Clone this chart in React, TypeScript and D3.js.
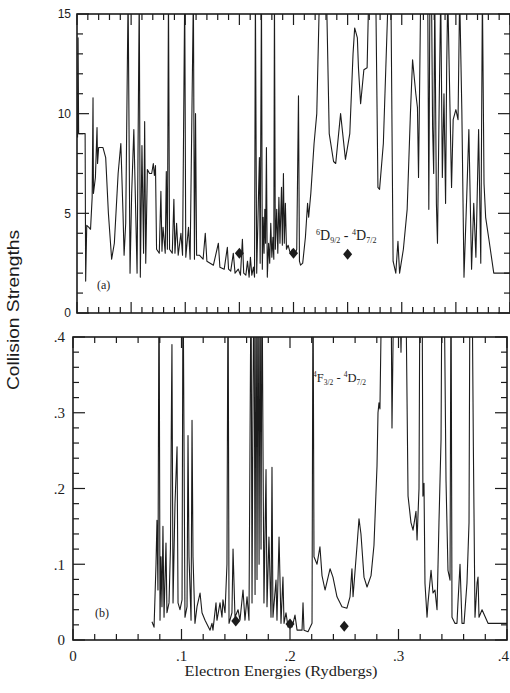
import React from "react";
import * as d3 from "d3";

// Panel (a): 6D9/2 - 4D7/2 collision strengths vs electron energy (Ry)
const energyA = [
  0.0005, 0.001, 0.0015, 0.0075, 0.008, 0.009, 0.011, 0.0125, 0.014, 0.0148,
  0.0152, 0.017, 0.0185, 0.019, 0.02, 0.024, 0.0265, 0.029, 0.032, 0.0345,
  0.038, 0.0405, 0.0425, 0.0435, 0.045, 0.0472, 0.049, 0.0505, 0.0525, 0.0555,
  0.0575, 0.0585, 0.06, 0.0615, 0.0625, 0.0635, 0.065, 0.067, 0.069, 0.0705,
  0.0715, 0.0725, 0.0735, 0.076, 0.0775, 0.0785, 0.0795, 0.0815, 0.0825, 0.0835,
  0.0845, 0.0855, 0.088, 0.0895, 0.0905, 0.092, 0.0935, 0.096, 0.0975, 0.0995,
  0.1005, 0.103, 0.1045, 0.1075, 0.1085, 0.1095, 0.1105, 0.113, 0.1165, 0.1185,
  0.12, 0.123, 0.126, 0.1306, 0.132, 0.136, 0.1389, 0.14, 0.142, 0.1444,
  0.146, 0.149, 0.151, 0.1528, 0.154, 0.156, 0.1575, 0.159, 0.1602, 0.1615,
  0.163, 0.164, 0.1648, 0.166, 0.1675, 0.1685, 0.1692, 0.1704, 0.1712, 0.172,
  0.1728, 0.1735, 0.1742, 0.175, 0.1758, 0.177, 0.178, 0.179, 0.18, 0.181,
  0.1818, 0.1824, 0.1832, 0.1845, 0.1855, 0.1865, 0.1875, 0.1889, 0.1897, 0.1907,
  0.1915, 0.1925, 0.1935, 0.195, 0.197, 0.199, 0.201, 0.203, 0.2046, 0.2055,
  0.2065, 0.2085, 0.211, 0.213, 0.214, 0.216, 0.219, 0.2215, 0.224, 0.2305,
  0.233, 0.237, 0.239, 0.2435, 0.248, 0.252, 0.255, 0.2565, 0.259, 0.26,
  0.262, 0.265, 0.268, 0.2695, 0.276, 0.278, 0.2795, 0.283, 0.2875, 0.29,
  0.292, 0.2945, 0.2965, 0.298, 0.3015, 0.305, 0.308, 0.31, 0.313, 0.3145,
  0.3155, 0.3162, 0.3175, 0.324, 0.325, 0.326, 0.3275, 0.3285, 0.3295, 0.3305,
  0.332, 0.333, 0.3345, 0.336, 0.3375, 0.339, 0.3405, 0.3415, 0.3425, 0.346,
  0.3475, 0.35, 0.352, 0.3535, 0.3555, 0.3575, 0.36, 0.362, 0.3645, 0.3665,
  0.3685, 0.371, 0.373, 0.3745, 0.376, 0.3775, 0.3805, 0.385, 0.4,
];
const strengthA = [
  8.8, 13.8, 9.0, 9.0, 1.6, 4.4, 4.3, 4.2, 5.8, 10.8,
  6.0, 6.8, 9.3, 7.5, 8.3, 8.3, 7.8, 5.0, 2.7, 3.5,
  7.0, 8.5, 5.0, 2.9, 4.5, 16, 2.0, 6.0, 9.2, 2.0,
  16, 1.8, 8.4, 3.0, 9.6, 2.5, 7.2, 7.0, 7.0, 7.5,
  6.9, 7.4, 3.2, 3.0, 6.1, 3.1, 4.3, 3.0, 7.1, 3.2,
  16, 3.2, 3.0, 5.7, 3.0, 4.5, 2.9, 4.0, 2.9, 16,
  2.8, 4.3, 2.7, 16, 2.7, 10.0, 2.9, 2.9, 2.7, 4.0,
  2.6, 2.5, 2.4, 3.5, 2.3, 2.2, 3.3, 2.2, 2.1, 3.0,
  2.0, 2.2, 1.9, 3.7, 2.0, 1.9, 2.6, 1.8, 2.8, 1.9,
  2.3, 1.8, 16, 2.0, 5.5, 7.8, 2.5, 16, 2.2, 4.8,
  3.0, 5.2, 3.5, 8.3, 1.8, 3.5, 2.5, 4.5, 2.8, 3.8,
  2.7, 16, 3.2, 5.2, 3.0, 5.8, 3.5, 6.3, 3.4, 7.0,
  3.5, 5.5, 3.2, 3.4, 3.0, 3.2, 2.9, 3.2, 10.9, 2.6,
  2.4, 2.5, 3.8, 5.5, 4.8, 6.0, 8.5, 10.0, 16, 16,
  9.0, 7.6, 7.5, 10.0, 7.7, 9.0, 13.0, 14.3, 13.8, 12.3,
  10.5, 12.2, 12.3, 16, 16, 6.3, 6.2, 8.5, 16, 16,
  2.6, 2.0, 3.6, 2.0, 3.2, 5.2, 10.0, 12.7, 11.0, 10.3,
  6.8, 10.0, 16, 16, 5.2, 16, 16, 9.3, 7.0, 16,
  5.5, 3.5, 10.2, 16, 6.8, 11.0, 5.5, 12.3, 16, 6.3,
  9.7, 10.2, 9.7, 16, 10.2, 1.8, 5.8, 9.2, 2.2, 5.5,
  2.8, 9.2, 2.5, 16, 6.5, 4.8, 3.7, 2.0, 2.0,
];

// Panel (b): 4F3/2 - 4D7/2
const energyB = [
  0.0728, 0.0747, 0.0765, 0.0774, 0.0783, 0.0793, 0.0802, 0.0811, 0.082, 0.0829,
  0.0839, 0.0857, 0.0866, 0.0885, 0.0898, 0.0908, 0.0912, 0.0922, 0.094, 0.0959,
  0.0968, 0.0986, 0.1005, 0.1014, 0.1032, 0.1051, 0.106, 0.1069, 0.1088, 0.1097,
  0.1106, 0.1124, 0.1143, 0.1171, 0.1189, 0.1217, 0.1263, 0.1281, 0.129, 0.1318,
  0.1327, 0.1355, 0.1373, 0.1382, 0.1401, 0.1419, 0.1429, 0.1438, 0.1465, 0.1475,
  0.1493, 0.1521, 0.1539, 0.1567, 0.1585, 0.1604, 0.1622, 0.1641, 0.165, 0.1659,
  0.1668, 0.1678, 0.1687, 0.1696, 0.1705, 0.1715, 0.1724, 0.1733, 0.1742, 0.1751,
  0.176, 0.1779, 0.1788, 0.1806, 0.1825, 0.1834, 0.1843, 0.1871, 0.188, 0.1899,
  0.1917, 0.1935, 0.1945, 0.1963, 0.1982, 0.2, 0.2018, 0.2028, 0.2046, 0.2065,
  0.2111, 0.212, 0.2129, 0.2166, 0.2203, 0.2212, 0.2221, 0.2249, 0.2276, 0.2295,
  0.2323, 0.2369, 0.2396, 0.2433, 0.2479, 0.2525, 0.2553, 0.2571, 0.2581, 0.2618,
  0.2636, 0.2654, 0.2682, 0.271, 0.2747, 0.2774, 0.2802, 0.2811, 0.282, 0.2829,
  0.2848, 0.293, 0.294, 0.2959, 0.3014, 0.3023, 0.3032, 0.3069, 0.3088, 0.3115,
  0.3134, 0.3161, 0.3171, 0.3189, 0.3198, 0.3217, 0.3225, 0.3235, 0.3244, 0.3263,
  0.3272, 0.33, 0.3318, 0.3336, 0.3355, 0.3373, 0.3392, 0.3401, 0.3419, 0.3438,
  0.3456, 0.3475, 0.3484, 0.3493, 0.352, 0.3539, 0.3548, 0.3567, 0.3585, 0.3604,
  0.3631, 0.365, 0.3659, 0.3677, 0.369, 0.3705, 0.3724, 0.3733, 0.3742, 0.377,
  0.3825, 0.4,
];
const strengthB = [
  0.024, 0.017, 0.1, 0.158, 0.066, 0.5, 0.026, 0.11, 0.044, 0.15,
  0.03, 0.128, 0.036, 0.049, 0.12, 0.32, 0.39, 0.049, 0.18, 0.255,
  0.049, 0.04, 0.053, 0.5, 0.03, 0.044, 0.27, 0.11, 0.026, 0.29,
  0.11, 0.022, 0.044, 0.062, 0.036, 0.026, 0.013, 0.022, 0.013, 0.049,
  0.026, 0.049, 0.03, 0.053, 0.036, 0.1, 0.5, 0.022, 0.036, 0.12,
  0.03, 0.04, 0.026, 0.066, 0.026, 0.057, 0.026, 0.5, 0.049, 0.317,
  0.5, 0.06, 0.5, 0.08, 0.5, 0.1, 0.5, 0.12, 0.5, 0.255,
  0.049, 0.225, 0.044, 0.136, 0.03, 0.228, 0.03, 0.079, 0.026, 0.136,
  0.022, 0.083, 0.022, 0.036, 0.017, 0.026, 0.017, 0.022, 0.033, 0.013,
  0.013, 0.049, 0.013, 0.011, 0.022, 0.5, 0.11, 0.1, 0.123, 0.085,
  0.066, 0.094, 0.083, 0.057, 0.044, 0.042, 0.057, 0.094, 0.057, 0.125,
  0.16, 0.14, 0.083, 0.07, 0.085, 0.125, 0.23, 0.3, 0.313, 0.305,
  0.5, 0.5, 0.28, 0.5, 0.45, 0.38, 0.45, 0.45, 0.19, 0.155,
  0.145, 0.17, 0.132, 0.2, 0.5, 0.5, 0.19, 0.207, 0.075, 0.03,
  0.049, 0.092, 0.062, 0.066, 0.04, 0.155, 0.264, 0.5, 0.5, 0.21,
  0.092, 0.079, 0.5, 0.03, 0.022, 0.022, 0.049, 0.1, 0.022, 0.022,
  0.075, 0.155, 0.5, 0.5, 0.255, 0.03, 0.075, 0.083, 0.03, 0.04,
  0.022, 0.022,
];

// Diamond reference points
const markEnergy = [0.15, 0.2, 0.25];
const markStrengthA = [3.0, 3.0, 2.95];
const markStrengthB = [0.025, 0.021, 0.018];

const yTicksA = [0, 5, 10, 15];
const yTickLabelsA = ["0", "5", "10", "15"];
const yTicksB = [0, 0.1, 0.2, 0.3, 0.4];
const yTickLabelsB = ["0", ".1", ".2", ".3", ".4"];
const xTicks = [0, 0.1, 0.2, 0.3, 0.4];
const xTickLabels = ["0", ".1", ".2", ".3", ".4"];

const INK = "#1c1c1c";
const SERIF = "'Liberation Serif', 'Times New Roman', serif";
const SANS = "'Liberation Sans', Arial, Helvetica, sans-serif";

type PanelProps = {
  id: string;
  energy: number[];
  strength: number[];
  marks: number[];
  yMax: number;
  left: number;
  right: number;
  top: number;
  bottom: number;
  xMinorStep: number;
  xMajorStep: number;
  yMinorStep: number;
  yMajorStep: number;
};

function Panel(p: PanelProps) {
  const x = d3.scaleLinear().domain([0, 0.4]).range([p.left, p.right]);
  const y = d3.scaleLinear().domain([0, p.yMax]).range([p.bottom, p.top]);
  const pts: [number, number][] = p.energy.map((e, i) => [e, p.strength[i]]);
  const line = d3
    .line<[number, number]>()
    .x((d) => x(d[0]))
    .y((d) => y(d[1]));

  const nx = Math.round(0.4 / p.xMinorStep);
  const xTickVals = d3.range(0, nx + 1).map((i) => i * p.xMinorStep);
  const ny = Math.round(p.yMax / p.yMinorStep);
  const yTickVals = d3.range(0, ny + 1).map((i) => i * p.yMinorStep);
  const isMajor = (v: number, step: number) =>
    Math.abs(v / step - Math.round(v / step)) < 1e-6;

  const diamond = (cx: number, cy: number) => {
    const path = d3.path();
    path.moveTo(cx, cy - 5.5);
    path.lineTo(cx + 4.5, cy);
    path.lineTo(cx, cy + 5.5);
    path.lineTo(cx - 4.5, cy);
    path.closePath();
    return path.toString();
  };

  return (
    <g>
      <defs>
        <clipPath id={`clip-${p.id}`}>
          <rect x={p.left} y={p.top} width={p.right - p.left} height={p.bottom - p.top} />
        </clipPath>
      </defs>
      <path
        d={line(pts) || ""}
        fill="none"
        stroke={INK}
        strokeWidth={1.1}
        strokeLinejoin="round"
        clipPath={`url(#clip-${p.id})`}
      />
      {p.marks.map((m, i) => (
        <path key={i} d={diamond(x(markEnergy[i]), y(m))} fill={INK} />
      ))}
      {xTickVals.map((v, i) => {
        const len = isMajor(v, p.xMajorStep) ? 11 : 6;
        const xp = x(v);
        return (
          <g key={`xt${i}`} stroke={INK} strokeWidth={1.2}>
            <line x1={xp} x2={xp} y1={p.bottom} y2={p.bottom - len} />
            <line x1={xp} x2={xp} y1={p.top} y2={p.top + len} />
          </g>
        );
      })}
      {yTickVals.map((v, i) => {
        const len = isMajor(v, p.yMajorStep) ? 12 : 6;
        const yp = y(v);
        return (
          <g key={`yt${i}`} stroke={INK} strokeWidth={1.2}>
            <line x1={p.left} x2={p.left + len} y1={yp} y2={yp} />
            <line x1={p.right} x2={p.right - len} y1={yp} y2={yp} />
          </g>
        );
      })}
      <rect
        x={p.left}
        y={p.top}
        width={p.right - p.left}
        height={p.bottom - p.top}
        fill="none"
        stroke={INK}
        strokeWidth={1.6}
      />
    </g>
  );
}

export default function App() {
  const yA = d3.scaleLinear().domain([0, 15]).range([313, 14]);
  const yB = d3.scaleLinear().domain([0, 0.4]).range([640, 337]);
  const xB = d3.scaleLinear().domain([0, 0.4]).range([73, 507]);

  return (
    <svg
      width={510}
      height={693}
      viewBox="0 0 510 693"
      style={{ position: "absolute", left: 0, top: 0, background: "#fff" }}
    >
      <rect x={0} y={0} width={510} height={693} fill="#fff" />
      <Panel
        id="a"
        energy={energyA}
        strength={strengthA}
        marks={markStrengthA}
        yMax={15}
        left={77}
        right={510}
        top={14}
        bottom={313}
        xMinorStep={0.01}
        xMajorStep={0.05}
        yMinorStep={1}
        yMajorStep={5}
      />
      <Panel
        id="b"
        energy={energyB}
        strength={strengthB}
        marks={markStrengthB}
        yMax={0.4}
        left={73}
        right={507}
        top={337}
        bottom={640}
        xMinorStep={0.02}
        xMajorStep={0.1}
        yMinorStep={0.02}
        yMajorStep={0.1}
      />

      {/* y tick labels, panel (a) */}
      {yTicksA.map((v, i) => (
        <text
          key={`la${i}`}
          x={71}
          y={yA(v)}
          dy="0.35em"
          textAnchor="end"
          fontFamily={SANS}
          fontSize={12}
          fill={INK}
        >
          {yTickLabelsA[i]}
        </text>
      ))}
      {/* y tick labels, panel (b) */}
      {yTicksB.map((v, i) => (
        <text
          key={`lb${i}`}
          x={65}
          y={yB(v)}
          dy="0.35em"
          textAnchor="end"
          fontFamily={SERIF}
          fontSize={15}
          fill={INK}
        >
          {yTickLabelsB[i]}
        </text>
      ))}
      {/* x tick labels; the last one is kept inside the right edge */}
      {xTicks.map((v, i) => {
        const last = i === xTicks.length - 1;
        return (
          <text
            key={`lx${i}`}
            x={last ? 509 : xB(v)}
            y={661}
            textAnchor={last ? "end" : "middle"}
            fontFamily={SERIF}
            fontSize={15}
            fill={INK}
          >
            {xTickLabels[i]}
          </text>
        );
      })}

      <text x={97} y={289} fontFamily={SERIF} fontSize={12} fill={INK}>
        (a)
      </text>
      <text x={95} y={617} fontFamily={SERIF} fontSize={12} fill={INK}>
        (b)
      </text>

      {/* transition labels */}
      <text x={316} y={240} fontFamily={SERIF} fontSize={14} fill={INK}>
        <tspan fontSize={8} dy={-5}>6</tspan>
        <tspan dy={5}>D</tspan>
        <tspan fontSize={8} dy={3}>9/2</tspan>
        <tspan dy={-3}> - </tspan>
        <tspan fontSize={8} dy={-5}>4</tspan>
        <tspan dy={5}>D</tspan>
        <tspan fontSize={8} dy={3}>7/2</tspan>
      </text>
      <text x={313} y={382} fontFamily={SERIF} fontSize={12.5} fill={INK}>
        <tspan fontSize={7.5} dy={-5}>4</tspan>
        <tspan dy={5}>F</tspan>
        <tspan fontSize={7.5} dy={3}>3/2</tspan>
        <tspan dy={-3}> - </tspan>
        <tspan fontSize={7.5} dy={-5}>4</tspan>
        <tspan dy={5}>D</tspan>
        <tspan fontSize={7.5} dy={3}>7/2</tspan>
      </text>

      {/* axis titles */}
      <text
        transform="translate(19,310) rotate(-90)"
        textAnchor="middle"
        fontFamily={SANS}
        fontSize={16}
        textLength={160}
        lengthAdjust="spacingAndGlyphs"
        fill={INK}
      >
        Collision Strengths
      </text>
      <text
        x={281}
        y={676}
        textAnchor="middle"
        fontFamily={SERIF}
        fontSize={15}
        textLength={193}
        lengthAdjust="spacingAndGlyphs"
        fill={INK}
      >
        Electron Energies (Rydbergs)
      </text>
    </svg>
  );
}
